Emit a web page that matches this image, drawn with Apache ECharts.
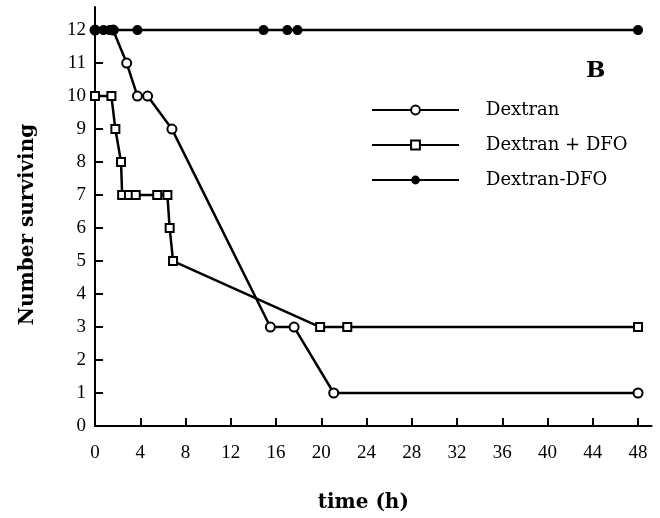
<!DOCTYPE html>
<html>
<head>
<meta charset="utf-8">
<script src="https://cdn.jsdelivr.net/npm/echarts@6/dist/echarts.min.js"></script>
<style>html,body{margin:0;padding:0;background:#fff;}#c{width:660px;height:518px;}</style>
</head>
<body>
<div id="c"></div>
<script>
// time (h) and number surviving for each group
var dextranT = [0, 1.6, 2.8, 3.75, 4.65, 6.8, 15.5, 17.6, 21.1, 48];
var dextranV = [12, 12, 11, 10, 10, 9, 3, 3, 1, 1];
var dfoT = [0, 1.45, 1.8, 2.3, 2.4, 3.0, 3.6, 5.5, 6.4, 6.6, 6.9, 19.9, 22.3, 48];
var dfoV = [10, 10, 9, 8, 7, 7, 7, 7, 7, 6, 5, 3, 3, 3];
var ddfoT = [0, 0.75, 1.3, 1.65, 3.75, 14.9, 17.0, 17.9, 48];
var ddfoV = [12, 12, 12, 12, 12, 12, 12, 12, 12];
var xTicks = [0, 4, 8, 12, 16, 20, 24, 28, 32, 36, 40, 44, 48];
var yTicks = [0, 1, 2, 3, 4, 5, 6, 7, 8, 9, 10, 11, 12];
var names = ['Dextran', 'Dextran + DFO', 'Dextran-DFO'];

function pairs(t, v) { return t.map(function (x, i) { return [x, v[i]]; }); }

var serif = '"Liberation Serif", "DejaVu Serif", serif';
var wide = '"DejaVu Serif", serif';
var chart = echarts.init(document.getElementById('c'));
chart.setOption({
  backgroundColor: '#fff',
  animation: false,
  title: {
    text: 'B', left: 581, top: 55,
    textStyle: { fontFamily: wide, fontWeight: 'bold', fontSize: 23, color: '#000' }
  },
  legend: {
    orient: 'vertical', left: 366, top: 96, itemWidth: 87, itemHeight: 11, itemGap: 17,
    data: names,
    textStyle: { fontFamily: wide, fontSize: 18, lineHeight: 18, color: '#000', padding: [0, 0, 0, 22] }
  },
  grid: { left: 95, right: 8.4, top: 7, bottom: 90 },
  xAxis: {
    type: 'value', min: 0, max: 49.2,
    name: 'time (h)', nameLocation: 'middle', nameGap: 67,
    nameTextStyle: { fontFamily: wide, fontWeight: 'bold', fontSize: 20, color: '#000', padding: [0, 20, 0, 0] },
    axisLine: { lineStyle: { color: '#000', width: 2 } },
    axisTick: { inside: true, length: 8, customValues: xTicks, lineStyle: { color: '#000', width: 2 } },
    axisLabel: { customValues: xTicks, margin: 18, fontFamily: serif, fontSize: 19, color: '#000' },
    splitLine: { show: false }
  },
  yAxis: {
    type: 'value', min: 0, max: 12.7,
    name: 'Number surviving', nameLocation: 'middle', nameGap: 57, nameRotate: 90,
    nameTextStyle: { fontFamily: wide, fontWeight: 'bold', fontSize: 20, color: '#000', padding: [0, 16, 0, 0] },
    axisLine: { show: true, lineStyle: { color: '#000', width: 2 } },
    axisTick: { show: true, inside: true, length: 8, customValues: yTicks, lineStyle: { color: '#000', width: 2 } },
    axisLabel: { customValues: yTicks, margin: 9, fontFamily: serif, fontSize: 19, color: '#000' },
    splitLine: { show: false }
  },
  series: [
    {
      name: names[0], type: 'line', data: pairs(dextranT, dextranV), clip: false,
      symbol: 'circle', symbolSize: 9,
      lineStyle: { color: '#000', width: 2.5 },
      itemStyle: { color: '#fff', borderColor: '#000', borderWidth: 2 }, z: 2
    },
    {
      name: names[1], type: 'line', data: pairs(dfoT, dfoV), clip: false,
      symbol: 'rect', symbolSize: 8,
      lineStyle: { color: '#000', width: 2.5 },
      itemStyle: { color: '#fff', borderColor: '#000', borderWidth: 2 }, z: 3
    },
    {
      name: names[2], type: 'line', data: pairs(ddfoT, ddfoV), clip: false,
      symbol: 'circle', symbolSize: 10,
      lineStyle: { color: '#000', width: 2.5 },
      itemStyle: { color: '#000', borderColor: '#000', borderWidth: 0 }, z: 4
    }
  ]
});
</script>
</body>
</html>
